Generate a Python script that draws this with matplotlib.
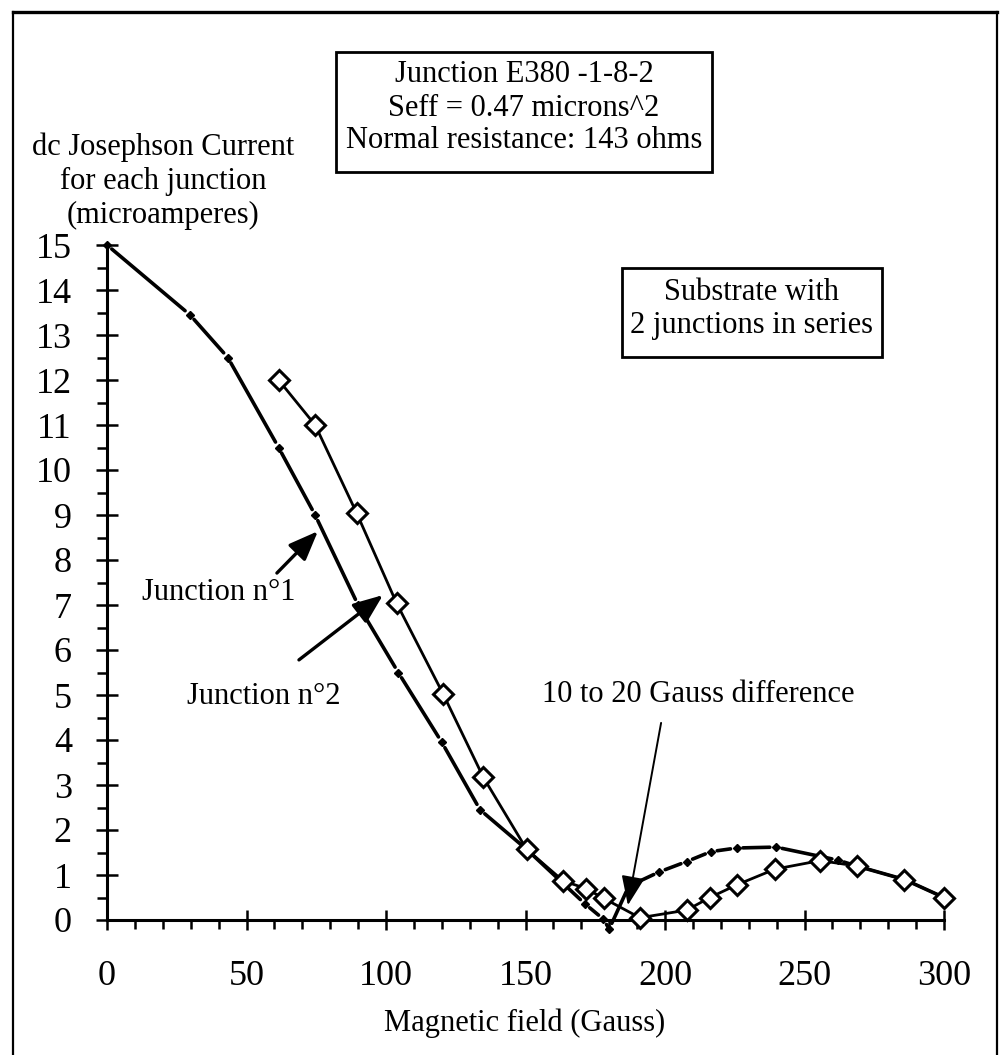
import matplotlib
matplotlib.use("Agg")
import matplotlib.pyplot as plt
from matplotlib.lines import Line2D
from matplotlib.patches import Rectangle
from matplotlib.ticker import MultipleLocator

# ---- data ----
j2_field = [61.5, 74.6, 89.5, 103.8, 120.5, 134.9, 150.4, 163.5, 171.6, 178.1,
            191.0, 207.8, 216.1, 225.7, 239.4, 255.6, 268.7, 285.8, 300.0]
j2_current = [12.0, 11.0, 9.04, 7.04, 5.02, 3.17, 1.57, 0.87, 0.70, 0.48,
              0.05, 0.22, 0.50, 0.78, 1.13, 1.32, 1.20, 0.90, 0.50]

j1_field = [0.0, 29.7, 43.3, 61.5, 74.6, 90.0, 104.4, 120.0, 133.7, 150.4,
            171.3, 177.9, 180.0, 187.0, 198.0, 207.8, 216.5, 225.7, 239.8,
            262.0, 268.7, 285.8, 300.0]
j1_current = [15.0, 13.45, 12.5, 10.5, 9.0, 7.0, 5.5, 3.95, 2.45, 1.57,
              0.36, 0.02, -0.2, 0.75, 1.07, 1.30, 1.52, 1.60, 1.62,
              1.33, 1.20, 0.90, 0.50]

x_ticks = [0, 50, 100, 150, 200, 250, 300]
y_ticks = list(range(0, 16))

info_lines = ["Junction E380 -1-8-2", "Seff = 0.47 microns^2",
              "Normal resistance: 143 ohms"]
substrate_lines = ["Substrate with", "2 junctions in series"]
ytitle_lines = ["dc Josephson Current", "for each junction", "(microamperes)"]
xlabel = "Magnetic field (Gauss)"

# annotation arrows: (text, text_xy, tail_xy, tip_xy, ha)
notes = [
    ("Junction n\u00b01", (40.1, 7.27), (60.9, 7.71), (75.6, 8.64), "center"),
    ("Junction n\u00b02", (56.1, 4.96), (68.8, 5.78), (98.9, 7.22), "center"),
    ("10 to 20 Gauss difference", (155.9, 5.0), (198.6, 4.38), (186.7, 0.33), "left"),
]

# ---- figure ----
W, H = 1000, 1055
plt.rcParams['font.family'] = ['Liberation Serif', 'DejaVu Serif']
fig = plt.figure(figsize=(W / 100, H / 100), dpi=100)


def fx(px):
    return px / W


def fy(py):
    return 1 - py / H


ax = fig.add_axes([fx(107), fy(920), fx(944) - fx(107), fy(245) - fy(920)])
ax.set_xlim(0, 300)
ax.set_ylim(0, 15)
ax.set_facecolor('none')
for s in ['top', 'right']:
    ax.spines[s].set_visible(False)
for s in ['left', 'bottom']:
    ax.spines[s].set_linewidth(2.2)
ax.spines['left'].set_bounds(0, 15)

ax.set_xticks(x_ticks)
ax.set_yticks(y_ticks)
ax.xaxis.set_minor_locator(MultipleLocator(10))
ax.yaxis.set_minor_locator(MultipleLocator(0.5))
ax.tick_params(axis='x', which='major', direction='inout', length=15, width=1.8,
               pad=21, labelsize=26)
ax.tick_params(axis='x', which='minor', direction='out', length=6.5, width=1.8)
ax.tick_params(axis='y', which='major', direction='inout', length=16.5, width=1.8,
               pad=17, labelsize=26)
ax.tick_params(axis='y', which='minor', direction='out', length=7, width=1.8)

# Junction 1 : dash-dot made of shortened segments with dots at vertices
pts = list(zip(j1_field, j1_current))
for (x0, y0), (x1, y1) in zip(pts[:-1], pts[1:]):
    ax.annotate('', xy=(x1, y1), xytext=(x0, y0),
                arrowprops=dict(arrowstyle='-', lw=2.6, color='black',
                                shrinkA=4.5, shrinkB=4.5),
                annotation_clip=False)
ax.plot(j1_field, j1_current, linestyle='none', marker='D', ms=4,
        color='black', clip_on=False, zorder=2)

# Junction 2 : solid line with open diamonds
ax.plot(j2_field, j2_current, '-', color='black', lw=2.0, marker='D',
        ms=10, mfc='white', mec='black', mew=2.2, clip_on=False, zorder=3)

# annotations
for i, (txt, txy, tail, tip, ha) in enumerate(notes):
    ax.text(txy[0], txy[1], txt, fontsize=22, ha=ha, va='center')
    lw = 2.4 if i < 2 else 1.4
    ax.annotate('', xy=tip, xytext=tail,
                arrowprops=dict(arrowstyle='-|>,head_length=1.0,head_width=0.4',
                                lw=lw, color='black', shrinkA=0, shrinkB=0,
                                mutation_scale=18),
                annotation_clip=False, zorder=4)

# axis titles
for line, py in zip(ytitle_lines, [147, 181, 215]):
    fig.text(fx(163), fy(py), line, fontsize=22, ha='center', va='center')
fig.text(fx(525), fy(1023), xlabel, fontsize=22, ha='center', va='center')

# boxes
fig.add_artist(Rectangle((fx(336), fy(172)), fx(712) - fx(336), fy(52) - fy(172),
                         transform=fig.transFigure, fill=False, lw=2.0, ec='black'))
for line, py in zip(info_lines, [75, 108, 140]):
    fig.text(fx(524), fy(py), line, fontsize=22, ha='center', va='center')

fig.add_artist(Rectangle((fx(622), fy(357)), fx(882) - fx(622), fy(268) - fy(357),
                         transform=fig.transFigure, fill=False, lw=2.0, ec='black'))
for line, py in zip(substrate_lines, [292, 325]):
    fig.text(fx(752), fy(py), line, fontsize=22, ha='center', va='center')

# outer frame (top, left, right)
fig.add_artist(Line2D([fx(13), fx(997)], [fy(12), fy(12)], transform=fig.transFigure,
                      color='black', lw=2.4))
fig.add_artist(Line2D([fx(13), fx(13)], [0, fy(12)], transform=fig.transFigure,
                      color='black', lw=1.6))
fig.add_artist(Line2D([fx(997), fx(997)], [0, fy(12)], transform=fig.transFigure,
                      color='black', lw=1.6))

fig.savefig("out.png", dpi=100)
